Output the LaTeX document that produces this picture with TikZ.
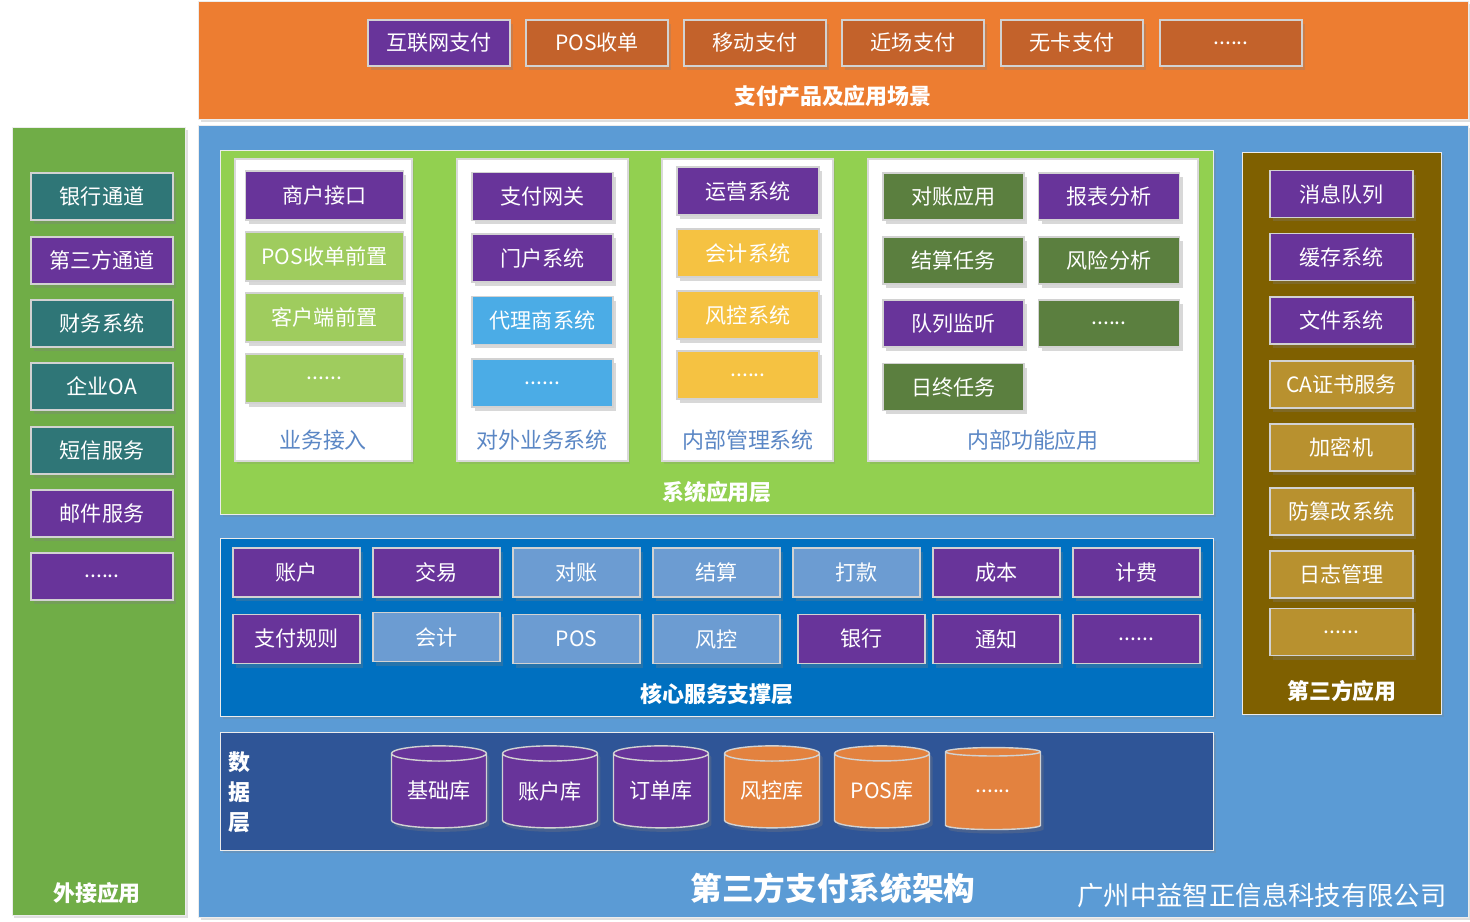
\documentclass[tikz,border=0pt]{standalone}
\usepackage{fontspec}
\setmainfont{Noto Sans CJK SC}
\usetikzlibrary{shapes.geometric,shadows}

\definecolor{bandorange}{HTML}{ED7D31}
\definecolor{btnorange}{HTML}{C3622B}
\definecolor{mainblue}{HTML}{5B9BD5}
\definecolor{extgreen}{HTML}{70AD47}
\definecolor{tealbox}{HTML}{2F7677}
\definecolor{purplebox}{HTML}{68349A}
\definecolor{sysgreen}{HTML}{92D050}
\definecolor{limebox}{HTML}{9FCC5E}
\definecolor{skybox}{HTML}{4BACE6}
\definecolor{yellowbox}{HTML}{F5C242}
\definecolor{forestbox}{HTML}{5B7F3F}
\definecolor{coreblue}{HTML}{0070C0}
\definecolor{steelbox}{HTML}{6C9CD2}
\definecolor{datablue}{HTML}{2F5597}
\definecolor{cylorange}{HTML}{E3823F}
\definecolor{thirdbrown}{HTML}{7F6000}
\definecolor{goldbox}{HTML}{B8912F}
\definecolor{labelblue}{HTML}{5B87C5}

\begin{document}
\begin{tikzpicture}[
        x=0.02cm, y=-0.02cm,
        every node/.style={font=\fontsize{12}{14}\selectfont},
        panel/.style={draw=gray!15, line width=0.4pt,
            drop shadow={opacity=0.25, shadow xshift=0.05cm, shadow yshift=-0.06cm}},
        subpanel/.style={draw=gray!30, line width=0.6pt, fill=white,
            drop shadow={opacity=0.2, shadow xshift=0.04cm, shadow yshift=-0.05cm}},
        box/.style={rectangle, draw=gray!35, line width=0.8pt,
            text=white, inner sep=0pt, align=center,
            drop shadow={opacity=0.3, shadow xshift=0.06cm, shadow yshift=-0.08cm}},
        topbox/.style={box, minimum width=2.84cm, minimum height=0.92cm},
        extbox/.style={box, minimum width=2.84cm, minimum height=0.94cm},
        accessbox/.style={box, minimum width=3.16cm, minimum height=0.98cm},
        outbox/.style={box, minimum width=2.82cm, minimum height=0.96cm},
        mgmtbox/.style={box, minimum width=2.84cm, minimum height=0.96cm},
        funcbox/.style={box, minimum width=2.82cm, minimum height=0.94cm},
        corebox/.style={box, minimum width=2.54cm, minimum height=0.98cm},
        thirdbox/.style={box, minimum width=2.86cm, minimum height=0.94cm},
        db/.style={cylinder, shape border rotate=90, aspect=0.24,
            draw=gray!35, line width=0.8pt, text=white,
            minimum width=1.9cm, minimum height=1.64cm, inner sep=0pt,
            drop shadow={opacity=0.3, shadow xshift=0.06cm, shadow yshift=-0.08cm}},
        layer/.style={font=\fontsize{12.5}{15}\selectfont\bfseries, text=white},
        group/.style={font=\fontsize{12.5}{15}\selectfont, text=labelblue}
      ]
      \useasboundingbox (0,0) rectangle (1470,922);

      % backgrounds
      \fill[white] (0,0) rectangle (1470,922);
      \filldraw[panel, fill=bandorange] (198,1) rectangle (1468,119);
      \filldraw[panel, fill=extgreen] (12,127) rectangle (185,915);
      \filldraw[panel, fill=mainblue] (198,125) rectangle (1468,917);
      \filldraw[panel, fill=sysgreen] (220,150) rectangle (1213,514);
      \filldraw[subpanel] (235,159) rectangle (412,461);
      \filldraw[subpanel] (457,159) rectangle (628,461);
      \filldraw[subpanel] (662,159) rectangle (833,461);
      \filldraw[subpanel] (868,159) rectangle (1198,461);
      \filldraw[panel, fill=coreblue] (220,538) rectangle (1213,716);
      \filldraw[panel, fill=datablue] (220,732) rectangle (1213,850);
      \filldraw[panel, fill=thirdbrown] (1242,152) rectangle (1441,714);

      % payment products
      \node[topbox, fill=purplebox] (pay1) at (439,43) {互联网支付};
      \node[topbox, fill=btnorange] (pay2) at (597,43) {POS收单};
      \node[topbox, fill=btnorange] (pay3) at (755,43) {移动支付};
      \node[topbox, fill=btnorange] (pay4) at (913,43) {近场支付};
      \node[topbox, fill=btnorange] (pay5) at (1072,43) {无卡支付};
      \node[topbox, fill=btnorange] (pay6) at (1231,43) {......};
      \node[layer] (paylabel) at (833,96) {支付产品及应用场景};

      % external applications
      \node[extbox, fill=tealbox] (ext1) at (102,196.5) {银行通道};
      \node[extbox, fill=purplebox] (ext2) at (102,260.5) {第三方通道};
      \node[extbox, fill=tealbox] (ext3) at (102,323.5) {财务系统};
      \node[extbox, fill=tealbox] (ext4) at (102,386.5) {企业OA};
      \node[extbox, fill=tealbox] (ext5) at (102,450.5) {短信服务};
      \node[extbox, fill=purplebox] (ext6) at (102,513.5) {邮件服务};
      \node[extbox, fill=purplebox] (ext7) at (102,576.5) {......};
      \node[layer] (extlabel) at (97,893) {外接应用};

      % system application layer
      \node[accessbox, fill=purplebox] (acc1) at (324.5,195.5) {商户接口};
      \node[accessbox, fill=limebox] (acc2) at (324.5,256.5) {POS收单前置};
      \node[accessbox, fill=limebox] (acc3) at (324.5,317.5) {客户端前置};
      \node[accessbox, fill=limebox] (acc4) at (324.5,378.5) {......};
      \node[group] (acclabel) at (323,440) {业务接入};

      \node[outbox, fill=purplebox] (out1) at (542.5,196.5) {支付网关};
      \node[outbox, fill=purplebox] (out2) at (542.5,258) {门户系统};
      \node[outbox, fill=skybox] (out3) at (542.5,320.5) {代理商系统};
      \node[outbox, fill=skybox] (out4) at (542.5,383) {......};
      \node[group] (outlabel) at (542,440) {对外业务系统};

      \node[mgmtbox, fill=purplebox] (mgmt1) at (748,191) {运营系统};
      \node[mgmtbox, fill=yellowbox] (mgmt2) at (748,253) {会计系统};
      \node[mgmtbox, fill=yellowbox] (mgmt3) at (748,315) {风控系统};
      \node[mgmtbox, fill=yellowbox] (mgmt4) at (748,375) {......};
      \node[group] (mgmtlabel) at (748,440) {内部管理系统};

      \node[funcbox, fill=forestbox] (func1) at (953.5,196.5) {对账应用};
      \node[funcbox, fill=purplebox] (func2) at (1109,196.5) {报表分析};
      \node[funcbox, fill=forestbox] (func3) at (953.5,260.5) {结算任务};
      \node[funcbox, fill=forestbox] (func4) at (1109,260.5) {风险分析};
      \node[funcbox, fill=purplebox] (func5) at (953.5,323.5) {队列监听};
      \node[funcbox, fill=forestbox] (func6) at (1109,323.5) {......};
      \node[funcbox, fill=forestbox] (func7) at (953.5,387) {日终任务};
      \node[group] (funclabel) at (1033,440) {内部功能应用};
      \node[layer] (syslabel) at (717,492) {系统应用层};

      % core services
      \node[corebox, fill=purplebox] (core1) at (296.5,572.5) {账户};
      \node[corebox, fill=purplebox] (core2) at (436.5,572.5) {交易};
      \node[corebox, fill=steelbox] (core3) at (576.5,572.5) {对账};
      \node[corebox, fill=steelbox] (core4) at (716.5,572.5) {结算};
      \node[corebox, fill=steelbox] (core5) at (856.5,572.5) {打款};
      \node[corebox, fill=purplebox] (core6) at (996.5,572.5) {成本};
      \node[corebox, fill=purplebox] (core7) at (1136.5,572.5) {计费};
      \node[corebox, fill=purplebox] (core8) at (296.5,639) {支付规则};
      \node[corebox, fill=steelbox] (core9) at (436.5,637) {会计};
      \node[corebox, fill=steelbox] (core10) at (576.5,639) {POS};
      \node[corebox, fill=steelbox] (core11) at (716.5,639) {风控};
      \node[corebox, fill=purplebox] (core12) at (861.5,639) {银行};
      \node[corebox, fill=purplebox] (core13) at (996.5,639) {通知};
      \node[corebox, fill=purplebox] (core14) at (1136.5,639) {......};
      \node[layer] (corelabel) at (717,694) {核心服务支撑层};

      % data layer
      \node[layer, align=center, font=\fontsize{12.5}{17}\selectfont\bfseries]
      (datalabel) at (239,792) {数\\据\\层};
      \node[db, fill=purplebox] (db1) at (439,791) {基础库};
      \node[db, fill=purplebox] (db2) at (550,791) {账户库};
      \node[db, fill=purplebox] (db3) at (661,791) {订单库};
      \node[db, fill=cylorange] (db4) at (772,791) {风控库};
      \node[db, fill=cylorange] (db5) at (882,791) {POS库};
      \node[db, fill=cylorange] (db6) at (993,791) {......};

      % third-party applications
      \node[thirdbox, fill=purplebox] (third1) at (1341.5,194) {消息队列};
      \node[thirdbox, fill=purplebox] (third2) at (1341.5,257) {缓存系统};
      \node[thirdbox, fill=purplebox] (third3) at (1341.5,320.5) {文件系统};
      \node[thirdbox, fill=goldbox] (third4) at (1341.5,384.5) {CA证书服务};
      \node[thirdbox, fill=goldbox] (third5) at (1341.5,447.5) {加密机};
      \node[thirdbox, fill=goldbox] (third6) at (1341.5,511.5) {防篡改系统};
      \node[thirdbox, fill=goldbox] (third7) at (1341.5,574.5) {日志管理};
      \node[thirdbox, fill=goldbox] (third8) at (1341.5,632) {......};
      \node[layer] (thirdlabel) at (1342,691) {第三方应用};

      % titles
      \node[font=\fontsize{18}{20}\selectfont\bfseries, text=white]
      (title) at (833,888) {第三方支付系统架构};
      \node[font=\fontsize{15}{17}\selectfont, text=white]
      (company) at (1262,895) {广州中益智正信息科技有限公司};
    \end{tikzpicture}
\end{document}
